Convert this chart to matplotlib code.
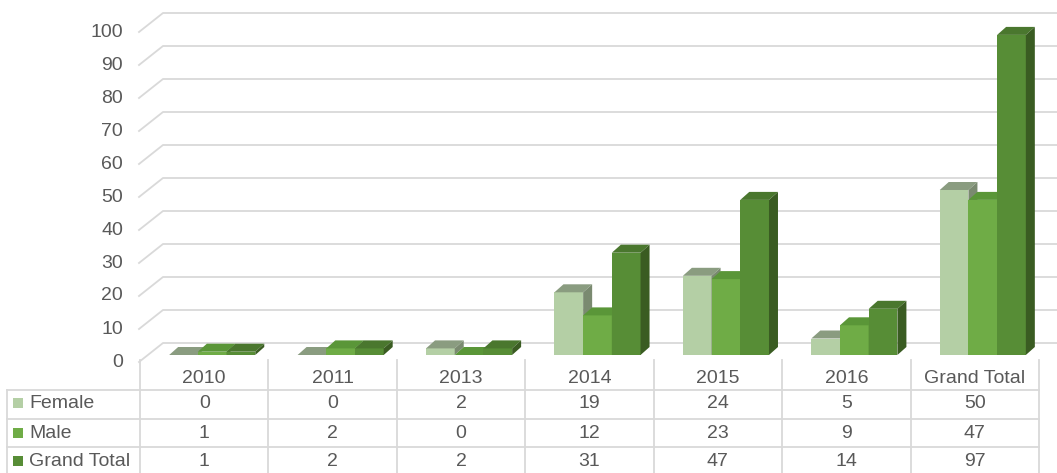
import numpy as np
import matplotlib.pyplot as plt
from matplotlib.patches import Polygon, Rectangle

plt.rcParams['font.family'] = ['Liberation Sans', 'DejaVu Sans']

categories = ['2010', '2011', '2013', '2014', '2015', '2016', 'Grand Total']
female = [0, 0, 2, 19, 24, 5, 50]
male = [1, 2, 0, 12, 23, 9, 47]
grand_total = [1, 2, 2, 31, 47, 14, 97]
series_names = ['Female', 'Male', 'Grand Total']
y_ticks = list(range(0, 101, 10))

# front / top / side colours for each series
front_cols = ['#b4cfa5', '#6fac46', '#578d36']
top_cols = ['#8a9c80', '#5a9638', '#4a772e']
side_cols = ['#7a8a70', '#4f8530', '#3a5c22']
txt = '#595959'
grid = '#d9d9d9'

W, H = 1057, 473
fig = plt.figure(figsize=(W / 100, H / 100), dpi=100)

# plot area in pixels
left, right, base, top = 140, 1039, 355, 10
ux = (right - left) / len(categories)   # px per category
uy = 3.3                               # px per unit

ax = fig.add_axes([left / W, (H - base) / H, (right - left) / W, (base - top) / H])
ax.set_xlim(-0.5, len(categories) - 0.5)
ax.set_ylim(0, (base - top) / uy)
ax.axis('off')

# walls / gridlines
xf = -0.5 - 1 / ux
xb = -0.5 + 23 / ux
xr = -0.5 + (W - left) / ux
for v in y_ticks:
    yf = v - 7 / uy
    yb = v + 12 / uy
    ax.plot([xf, xb, xr], [yf, yb, yb], color=grid, lw=1.3, clip_on=False, zorder=0)
    ax.text(xf - 16 / ux, yf, str(v), ha='right', va='center', fontsize=14,
            color=txt, clip_on=False)

# 3d bars
bw = 28.7 / ux
shift = 8 / ux
ddx = 9 / ux
ddy = 8 / uy
series = [female, male, grand_total]
z = 1
for i in range(len(categories)):
    for k, vals in enumerate(series):
        x0 = i + shift + (k - 1.5) * bw
        h = vals[i]
        ax.bar(x0, h, bw, align='edge', color=front_cols[k], lw=0, zorder=z)
        ax.add_patch(Polygon([(x0, h), (x0 + bw, h), (x0 + bw + ddx, h + ddy), (x0 + ddx, h + ddy)],
                             closed=True, fc=top_cols[k], lw=0, zorder=z + 1))
        ax.add_patch(Polygon([(x0 + bw, 0), (x0 + bw + ddx, ddy), (x0 + bw + ddx, h + ddy), (x0 + bw, h)],
                             closed=True, fc=side_cols[k], lw=0, zorder=z + 1))
        z += 2

# data table in pixel space
ov = fig.add_axes([0, 0, 1, 1])
ov.set_xlim(0, W)
ov.set_ylim(H, 0)
ov.axis('off')

for j in range(len(categories) + 1):
    xx = left + j * ux
    ov.plot([xx, xx], [360, H], color=grid, lw=1.3)
ov.plot([7, 7], [390, H], color=grid, lw=1.3)
for yy in [390, 418.5, 447]:
    ov.plot([7, right], [yy, yy], color=grid, lw=1.3)

for j, c in enumerate(categories):
    ov.text(left + (j + 0.5) * ux, 378, c, ha='center', va='center', fontsize=14, color=txt)

row_y = [403, 433, 461]
for k, name in enumerate(series_names):
    ov.add_patch(Rectangle((13, row_y[k] - 5), 10, 10, fc=front_cols[k], lw=0))
    ov.text(29, row_y[k], name, ha='left', va='center', fontsize=14, color=txt)
    for j, v in enumerate(series[k]):
        ov.text(left + (j + 0.5) * ux, row_y[k], str(v), ha='center', va='center',
                fontsize=14, color=txt)

plt.savefig('out.png', dpi=100)
